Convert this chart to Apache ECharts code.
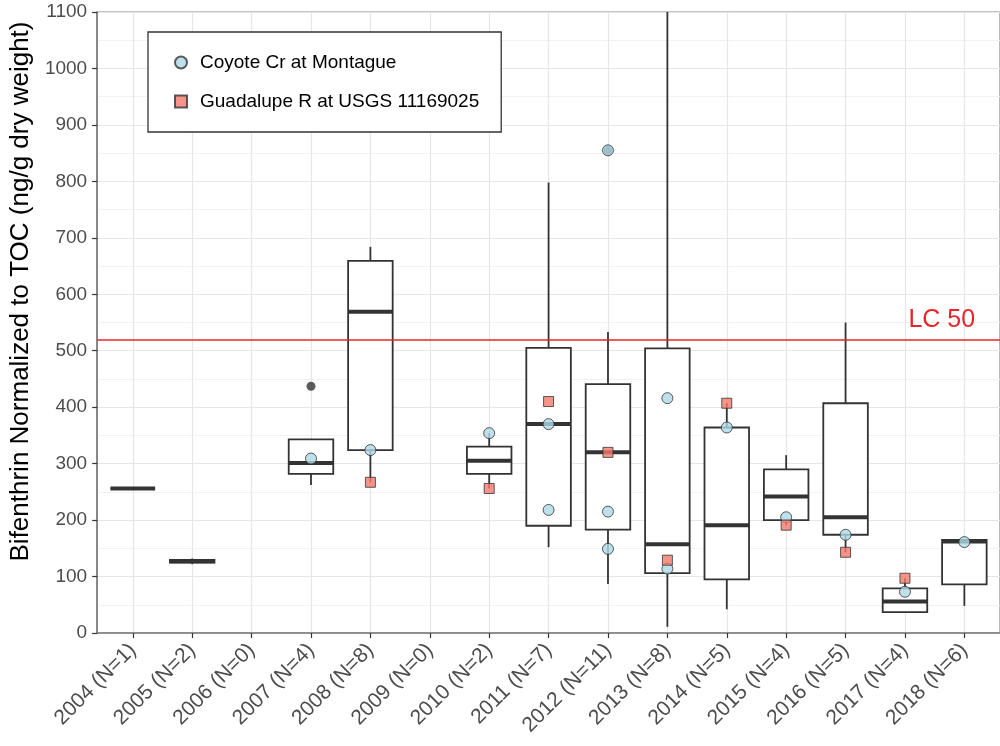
<!DOCTYPE html>
<html>
<head>
<meta charset="utf-8">
<script src="https://cdn.jsdelivr.net/npm/echarts@6/dist/echarts.min.js"></script>
<style>
html,body{margin:0;padding:0;background:#fff;}
#chart{width:1000px;height:746px;}
</style>
</head>
<body>
<div id="chart"></div>
<script>
// ---- data ----
const categories = ['2004 (N=1)','2005 (N=2)','2006 (N=0)','2007 (N=4)','2008 (N=8)','2009 (N=0)','2010 (N=2)','2011 (N=7)','2012 (N=11)','2013 (N=8)','2014 (N=5)','2015 (N=4)','2016 (N=5)','2017 (N=4)','2018 (N=6)'];
const boxMin = [256, 122, null, 262, 267, null, 256, 152,  87,  11,  42, 191, 143, 37,  48];
const boxQ1  = [256, 124.5, null, 282, 324, null, 282, 190, 183, 106,  95, 200, 174, 37,  86];
const boxMed = [256, 127, null, 301, 569, null, 305, 370, 320, 157, 191, 242, 205, 56, 162];
const boxQ3  = [256, 129.5, null, 343, 659, null, 330, 505, 441, 504, 364, 290, 407, 79, 165];
const boxMax = [256, 132, null, 343, 684, null, 354, 798, 533, 1100, 407, 315, 550, 97, 165];
const outlierCat = ['2007 (N=4)', '2012 (N=11)'];
const outlierVal = [437, 855];
const coyoteCat = ['2007 (N=4)','2008 (N=8)','2010 (N=2)','2011 (N=7)','2011 (N=7)','2012 (N=11)','2012 (N=11)','2012 (N=11)','2013 (N=8)','2013 (N=8)','2014 (N=5)','2015 (N=4)','2016 (N=5)','2017 (N=4)','2018 (N=6)'];
const coyoteVal = [309, 324, 354, 370, 218, 215, 149, 855, 416, 114, 364, 205, 174, 73, 161];
const guadCat = ['2008 (N=8)','2010 (N=2)','2011 (N=7)','2012 (N=11)','2013 (N=8)','2014 (N=5)','2015 (N=4)','2016 (N=5)','2017 (N=4)'];
const guadVal = [267, 256, 410, 320, 129, 407, 191, 143, 97];
const lc50 = 520;

// ---- build ----
const pos = c => categories.indexOf(c) + 1;
const boxData = [];
categories.forEach((c, i) => {
  if (boxMin[i] != null) boxData.push([i + 1, boxMin[i], boxQ1[i], boxMed[i], boxQ3[i], boxMax[i]]);
});
const catIdx = categories.map((c, i) => i + 1);
const dark = '#333333';

function renderBox(params, api) {
  const x = api.value(0);
  const cMin = api.coord([x, api.value(1)]);
  const cQ1 = api.coord([x, api.value(2)]);
  const cMed = api.coord([x, api.value(3)]);
  const cQ3 = api.coord([x, api.value(4)]);
  const cMax = api.coord([x, api.value(5)]);
  const half = api.size([0.75, 0])[0] / 2;
  const cx = cMed[0];
  return {
    type: 'group',
    children: [
      {type: 'line', shape: {x1: cx, y1: cMax[1], x2: cx, y2: cQ3[1]}, style: {stroke: dark, lineWidth: 1.8}},
      {type: 'line', shape: {x1: cx, y1: cMin[1], x2: cx, y2: cQ1[1]}, style: {stroke: dark, lineWidth: 1.8}},
      {type: 'rect', shape: {x: cx - half, y: cQ3[1], width: 2 * half, height: cQ1[1] - cQ3[1]}, style: {fill: '#ffffff', stroke: dark, lineWidth: 1.8}},
      {type: 'line', shape: {x1: cx - half, y1: cMed[1], x2: cx + half, y2: cMed[1]}, style: {stroke: dark, lineWidth: 4}}
    ]
  };
}

const chart = echarts.init(document.getElementById('chart'), null, {renderer: 'canvas'});
const font = 'Liberation Sans, Arial, sans-serif';
chart.setOption({
  animation: false,
  backgroundColor: '#ffffff',
  textStyle: {fontFamily: font},
  grid: {left: 97, top: 12, width: 912, height: 621, show: true, borderColor: '#8a8a8a', borderWidth: 1.2, backgroundColor: 'transparent'},
  legend: {
    orient: 'vertical', left: 148, top: 32, z: 10,
    data: ['Coyote Cr at Montague', 'Guadalupe R at USGS 11169025'],
    itemWidth: 12, itemHeight: 12, itemGap: 20,
    padding: [21, 22, 21, 26],
    backgroundColor: '#ffffff',
    borderColor: dark, borderWidth: 1.3,
    textStyle: {fontSize: 19, color: '#000', fontFamily: font, padding: [0, 0, 0, 8]}
  },
  xAxis: {
    type: 'value', min: 0.4, max: 15.6,
    axisLine: {show: true, lineStyle: {color: '#7a7a7a', width: 1.6}},
    axisTick: {show: true, length: 5, lineStyle: {color: dark, width: 1.2}, customValues: catIdx},
    axisLabel: {customValues: catIdx, rotate: 45, fontSize: 21, color: '#4d4d4d', margin: 14, fontFamily: font,
      formatter: v => categories[Math.round(v) - 1] || ''},
    splitLine: {show: false}
  },
  yAxis: {
    type: 'value', min: 0, max: 1100, interval: 100,
    name: 'Bifenthrin Normalized to TOC (ng/g dry weight)',
    nameLocation: 'middle', nameGap: 61,
    nameTextStyle: {fontSize: 26, color: '#000', fontFamily: font, padding: [0, 0, 0, 62]},
    axisLine: {show: true, lineStyle: {color: '#7a7a7a', width: 1.6}},
    axisTick: {show: true, length: 5, lineStyle: {color: dark, width: 1.2}},
    axisLabel: {fontSize: 19, color: '#4d4d4d', margin: 10, fontFamily: font, formatter: v => String(v)},
    splitLine: {show: true, lineStyle: {color: '#e6e6e6', width: 1.2}},
    minorTick: {show: false, splitNumber: 2},
    minorSplitLine: {show: true, lineStyle: {color: '#f0f0f0', width: 0.9}}
  },
  series: [
    {
      name: 'vgrid', type: 'line', data: [], z: 0, silent: true,
      markLine: {silent: true, z: 0, symbol: ['none', 'none'], label: {show: false},
        lineStyle: {color: '#e6e6e6', width: 1.2, type: 'solid'},
        data: catIdx.map(v => ({xAxis: v}))}
    },
    {
      name: 'box', type: 'custom', renderItem: renderBox, data: boxData, z: 2, silent: true,
      encode: {x: 0, y: [1, 2, 3, 4, 5]}
    },
    {
      name: 'lc50', type: 'line', data: [], z: 3, silent: true,
      markLine: {silent: true, z: 3, symbol: ['none', 'none'], label: {show: false},
        lineStyle: {color: '#e8252b', width: 1.6, type: 'solid'},
        data: [{yAxis: lc50}]},
      markPoint: {silent: true, z: 3, symbolSize: 0,
        data: [{coord: [14.62, 555], value: 'LC 50'}],
        label: {show: true, formatter: 'LC 50', color: '#e8252b', fontSize: 25, fontFamily: font}}
    },
    {
      name: 'outlier', type: 'scatter', z: 4, symbol: 'circle', symbolSize: 9,
      itemStyle: {color: dark},
      data: outlierCat.map((c, i) => [pos(c), outlierVal[i]])
    },
    {
      name: 'Coyote Cr at Montague', type: 'scatter', z: 5, symbol: 'circle', symbolSize: 11,
      itemStyle: {color: '#add8e6', borderColor: dark, borderWidth: 1},
      data: coyoteCat.map((c, i) => [pos(c), coyoteVal[i]])
    },
    {
      name: 'Guadalupe R at USGS 11169025', type: 'scatter', z: 5, symbol: 'rect', symbolSize: 10,
      itemStyle: {color: '#f4796b', borderColor: dark, borderWidth: 1},
      data: guadCat.map((c, i) => [pos(c), guadVal[i]])
    }
  ]
});
</script>
</body>
</html>
